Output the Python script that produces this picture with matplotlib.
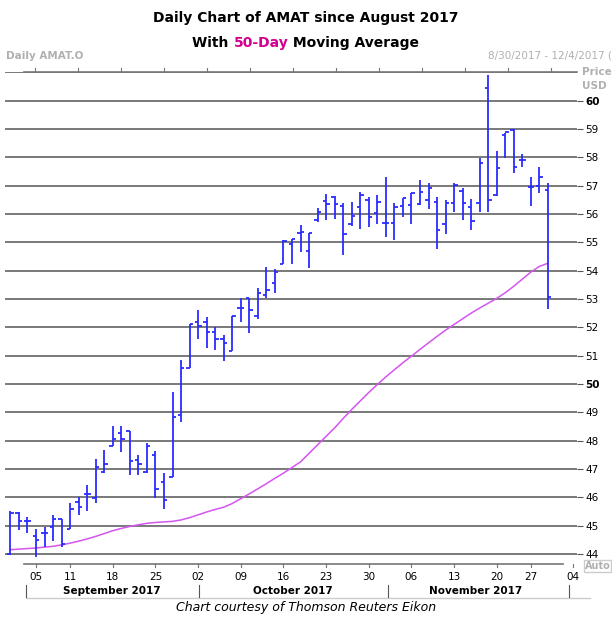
import matplotlib
matplotlib.use("Agg")
import matplotlib.pyplot as plt

W, H = 612, 617
opens  = [44.0,45.45,45.15,44.64,44.73,44.96,45.22,44.87,45.85,46.1,45.96,46.9,47.8,48.28,48.35,47.3,46.88,47.5,46.55,46.7,48.9,50.58,52.2,
          52.2,51.85,51.6,51.18,52.67,53.05,52.4,53.14,53.57,54.25,54.95,55.33,54.7,55.8,56.47,56.6,56.27,55.66,56.25,56.49,56.04,55.69,55.69,
          56.28,56.31,56.35,56.49,56.43,55.63,56.4,56.82,56.25,56.37,60.45,56.67,58.8,58.95,57.9,56.96,57.0,56.84]
highs  = [45.5,45.48,45.3,44.87,44.96,45.38,45.22,45.8,46.0,46.42,47.36,47.67,48.52,48.52,48.35,47.5,47.9,47.65,46.85,49.73,50.85,52.1,52.6,
          52.37,52.0,51.73,52.4,53.04,53.05,53.37,54.13,54.04,55.07,55.13,55.6,55.33,56.2,56.7,56.65,56.37,56.43,56.78,56.6,56.67,57.32,56.37,
          56.58,56.73,57.2,57.1,56.6,56.49,57.08,56.9,56.51,57.97,60.89,58.23,58.85,59.0,58.1,57.32,57.64,57.08]
lows   = [43.95,44.85,44.75,43.88,44.23,44.44,44.23,44.87,45.38,45.53,45.8,46.85,47.8,47.6,46.8,46.8,46.85,45.96,45.58,46.7,48.64,50.58,51.6,
          51.26,51.2,50.8,51.15,52.2,51.8,52.28,53.02,53.2,54.25,54.25,54.64,54.1,55.72,55.77,55.83,54.54,55.57,55.48,55.54,55.66,55.17,55.07,
          55.9,55.66,56.31,56.19,54.78,55.3,56.08,55.78,55.43,56.08,56.08,56.63,57.97,57.46,57.67,56.28,56.73,52.65]
closes = [45.45,45.15,45.15,44.5,44.73,45.22,44.35,45.6,45.67,46.1,47.06,47.16,48.05,48.05,47.28,47.16,47.8,46.3,45.9,48.85,50.58,52.1,52.05,
          51.85,51.6,51.44,52.4,52.67,52.6,53.2,53.3,53.96,55.04,55.1,55.36,55.33,56.07,56.36,56.36,55.28,55.92,56.67,55.9,56.43,55.69,56.25,
          56.57,56.73,56.78,56.9,55.45,56.37,57.02,56.4,55.76,57.81,56.49,57.61,58.9,57.67,57.9,56.96,57.3,53.06]
ma50 = [44.15,44.17,44.19,44.21,44.24,44.27,44.32,44.38,44.45,44.53,
        44.62,44.72,44.82,44.90,44.97,45.03,45.08,45.11,45.13,45.15,
        45.20,45.28,45.38,45.48,45.57,45.65,45.78,45.95,46.12,46.30,
        46.48,46.67,46.85,47.05,47.25,47.55,47.85,48.15,48.45,48.78,
        49.10,49.40,49.70,49.98,50.25,50.50,50.75,50.98,51.22,51.45,
        51.68,51.90,52.10,52.30,52.50,52.68,52.85,53.02,53.22,53.45,
        53.70,53.95,54.15,54.26]
tick_pos = [3,7,12,17,22,27,32,37,42,47,52,57,61,66]
tick_labels = ["05","11","18","25","02","09","16","23","30","06","13","20","27","04"]
months = ["September 2017","October 2017","November 2017"]
price_ticks = list(range(44,61))

fig = plt.figure(figsize=(W/100, H/100), dpi=100)
def fx(x): return x/W
def fy(y): return 1-y/H

ax = fig.add_axes([fx(5), fy(563), fx(577)-fx(5), fy(72)-fy(563)])
ax.set_xlim(-0.63, 66.4)
ax.set_ylim(43.68, 61.01)
for p in range(44, 62):
    ax.axhline(p, color="#555555", lw=1.1, zorder=1)
idx = list(range(len(opens)))
blue = "#2b2bff"
ax.vlines(idx, lows, highs, color=blue, lw=1.3, zorder=3)
ax.hlines(opens, [i-0.4 for i in idx], idx, color=blue, lw=1.3, zorder=3)
ax.hlines(closes, idx, [i+0.4 for i in idx], color=blue, lw=1.3, zorder=3)
ax.plot(idx, ma50, color="#d455f0", lw=1.1, zorder=2)
for s in ax.spines.values():
    s.set_visible(False)
ax.set_xticks([])
ax.yaxis.tick_right()
ax.set_yticks(price_ticks)
ax.set_yticklabels([str(p) for p in price_ticks])
ax.tick_params(axis="y", length=4, color="#555555", labelsize=7.5, pad=2)
for lab in ax.get_yticklabels():
    if lab.get_text() in ("60", "50"):
        lab.set_fontweight("bold")

# top line and header
fig.add_artist(plt.Line2D([fx(24), fx(577)], [fy(72), fy(72)], color="#777777", lw=1.2))
for x in range(35, 575, 43):
    fig.add_artist(plt.Line2D([fx(x), fx(x)], [fy(68), fy(72)], color="#777777", lw=0.8))
fig.text(fx(6), fy(56), "Daily AMAT.O", color="#b0b0b0", fontsize=7.5, fontweight="bold", va="center")
fig.text(fx(612), fy(56), "8/30/2017 - 12/4/2017 (", color="#b0b0b0", fontsize=7.5, va="center", ha="right")
fig.text(fx(582), fy(72), "Price", color="#b0b0b0", fontsize=7.5, fontweight="bold", va="center")
fig.text(fx(582), fy(86), "USD", color="#b0b0b0", fontsize=7.5, fontweight="bold", va="center")
fig.text(fx(585), fy(566), "Auto", color="#b0b0b0", fontsize=7, fontweight="bold", va="center",
         bbox=dict(facecolor="white", edgecolor="#cccccc", pad=0.5))

# titles
FS = 10
fig.text(0.5, fy(18), "Daily Chart of AMAT since August 2017", ha="center", va="center", fontsize=FS, fontweight="bold")
parts = [("With ", "black"), ("50-Day", "#d4008f"), (" Moving Average", "black")]
full = "".join(p for p, _ in parts)
tt = fig.text(0.5, fy(43), full, ha="center", va="center", fontsize=FS, fontweight="bold", alpha=0)
fig.canvas.draw()
r = fig.canvas.get_renderer()
x0 = tt.get_window_extent(r).x0
acc = ""
for s, c in parts:
    # position each part using width of accumulated prefix
    probe = fig.text(0, 0, acc + s + "|", fontsize=FS, fontweight="bold", alpha=0)
    probe0 = fig.text(0, 0, acc + "|", fontsize=FS, fontweight="bold", alpha=0)
    bar = fig.text(0, 0, "|", fontsize=FS, fontweight="bold", alpha=0)
    start = probe0.get_window_extent(r).width - bar.get_window_extent(r).width if acc else 0
    fig.text((x0 + start)/fig.bbox.width, fy(43), s, ha="left", va="center", fontsize=FS, fontweight="bold", color=c)
    acc += s

# x axis
fig.add_artist(plt.Line2D([fx(24), fx(563)], [fy(564), fy(564)], color="#777777", lw=1.2))
fig.add_artist(plt.Line2D([fx(26), fx(590)], [fy(598), fy(598)], color="#cccccc", lw=1))
for p, lab in zip(tick_pos, tick_labels):
    xp = 10.4 + 8.53*p
    fig.add_artist(plt.Line2D([fx(xp), fx(xp)], [fy(564), fy(567)], color="#777777", lw=0.8))
    fig.text(fx(xp), fy(577), lab, ha="center", va="center", fontsize=7.5)
for xs in (26, 199, 388, 569):
    fig.add_artist(plt.Line2D([fx(xs), fx(xs)], [fy(585), fy(597)], color="#555555", lw=0.8))
for m, xc in zip(months, (112, 293, 476)):
    fig.text(fx(xc), fy(591), m, ha="center", va="center", fontsize=7.5, fontweight="bold")
fig.text(0.5, fy(607), "Chart courtesy of Thomson Reuters Eikon", ha="center", va="center", fontsize=9, style="italic")

fig.savefig("out.png", dpi=100)
